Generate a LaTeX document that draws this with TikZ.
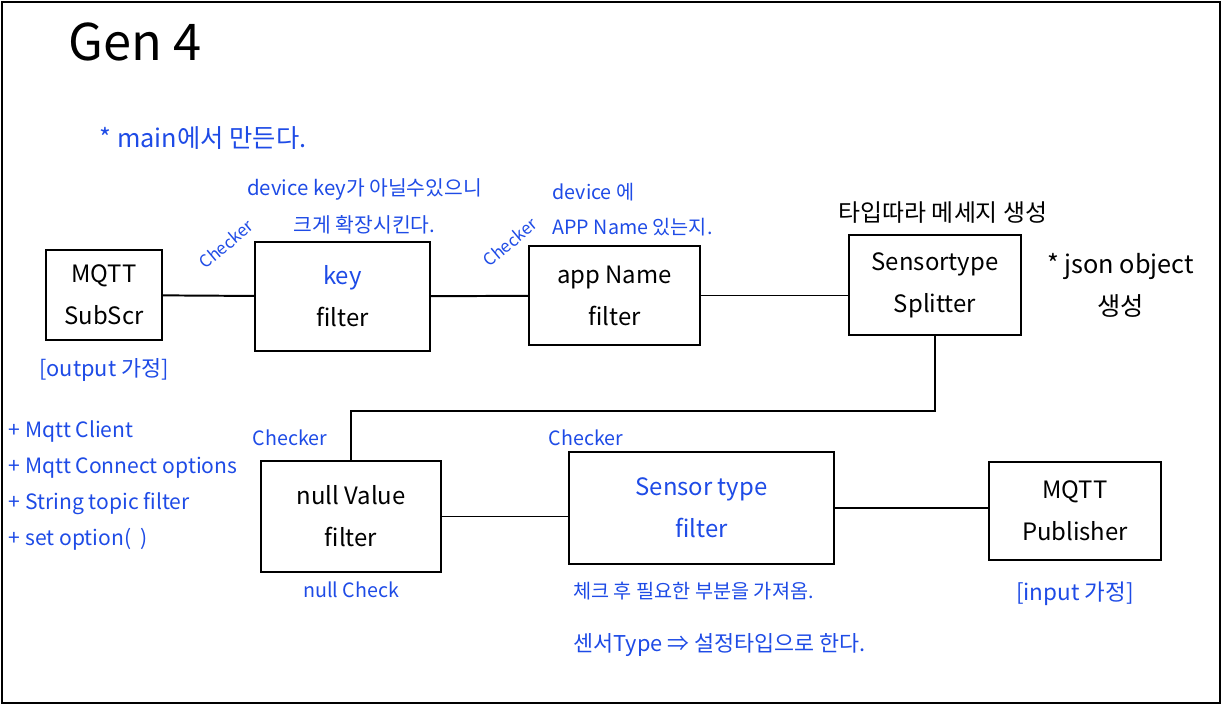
\documentclass[tikz,border=0pt]{standalone}
\usepackage{fontspec}
\newfontfamily\krfont{Noto Sans CJK KR}
\usepackage{xcolor}
\usetikzlibrary{positioning}
\definecolor{inkblue}{RGB}{30,75,230}

\begin{document}
\begin{tikzpicture}[
    font=\krfont\fontsize{14}{25}\selectfont,
    block/.style = {draw, line width=1.6pt, align=center,
                    font=\krfont\fontsize{17}{30}\selectfont},
    note/.style  = {text=inkblue, align=center},
    cnote/.style = {text=inkblue, rotate=40, inner sep=0pt,
                    font=\krfont\fontsize{12}{14}\selectfont},
    wire/.style  = {line width=1.4pt},
]
\useasboundingbox (0,0) rectangle (30.55,-17.625);
\draw[line width=1.2pt] (0.05,-0.05) rectangle (30.5,-17.575);

%% ── Title ─────────────────────────────────────────────────────────────────
\node[font=\krfont\fontsize{36}{40}\selectfont] (title) at (3.375,-1.05) {Gen 4};
\node[note, font=\krfont\fontsize{18}{20}\selectfont] (mainnote) at (5.075,-3.45)
  {* main에서 만든다.};

%% ── Top row ───────────────────────────────────────────────────────────────
\node[block, minimum width=2.9cm, minimum height=2.25cm] (sub) at (2.6,-7.375)
  {MQTT\\SubScr};
\node[block, minimum width=4.375cm, minimum height=2.725cm] (key) at (8.5625,-7.4125)
  {\textcolor{inkblue}{key}\\filter};
\node[block, minimum width=4.275cm, minimum height=2.475cm] (app) at (15.3625,-7.3875)
  {app Name\\filter};
\node[block, minimum width=4.3cm, minimum height=2.5cm] (split) at (23.375,-7.125)
  {Sensortype\\Splitter};

\draw[wire] (sub) -- (key);
\draw[wire] (key) -- (app);
\draw[wire] (app.east) -- (app.east -| split.west);

\node[note, below=0.3cm of sub, font=\krfont\fontsize{15.5}{20}\selectfont] (outnote)
  {[output 가정]};
\node[note, above=0.05cm of key, xshift=0.55cm, font=\krfont\fontsize{14.5}{26}\selectfont]
  (keynote) {device key가 아닐수있으니\\크게 확장시킨다.};
\node[note, above=0.1cm of app, xshift=0.45cm, align=left] (appnote)
  {device 에\\APP Name 있는지.};
\node[above=0.15cm of split, xshift=0.2cm, font=\krfont\fontsize{17}{20}\selectfont]
  (splitnote) {타입따라 메세지 생성};
\node[right=0.5cm of split, align=center, font=\krfont\fontsize{18}{30}\selectfont]
  (jsonnote) {* json object\\생성};
\node[cnote] (chk1) at (5.65,-6.1) {Checker};
\node[cnote] (chk2) at (12.75,-6.05) {Checker};

%% ── Client members ────────────────────────────────────────────────────────
\node[note, align=left, anchor=north west, font=\krfont\fontsize{15}{25.5}\selectfont]
  (members) at (0.1,-10.4)
  {+ Mqtt Client\\+ Mqtt Connect options\\+ String topic filter\\+ set option(\ \ )};

%% ── Bottom row ────────────────────────────────────────────────────────────
\node[block, minimum width=4.5cm, minimum height=2.775cm] (null) at (8.775,-12.9125)
  {null Value\\filter};
\node[block, minimum width=6.625cm, minimum height=2.8cm, text=inkblue] (stype)
  at (17.5375,-12.7) {Sensor type\\filter};
\node[block, minimum width=4.3cm, minimum height=2.45cm] (pub) at (26.875,-12.775)
  {MQTT\\Publisher};

\draw[wire] (split.south) -- ++(0,-1.875) -| (null.north);
\draw[wire] (null.east) -- (null.east -| stype.west);
\draw[wire] (stype.east) -- (stype.east -| pub.west);

\node[note] (chk3) at (7.25,-10.95) {Checker};
\node[note] (chk4) at (14.65,-10.95) {Checker};
\node[note, below=0.1cm of null] (nullnote) {null Check};
\node[note, below=0.3cm of stype, xshift=-0.2cm] (getnote) {체크 후 필요한 부분을 가져옴.};
\node[note, below right=0.6cm and 0cm of getnote.south west, font=\krfont\fontsize{15.5}{20}\selectfont]
  (typenote) {센서Type ⇒ 설정타입으로 한다.};
\node[note, below=0.4cm of pub, font=\krfont\fontsize{16}{20}\selectfont] (innote)
  {[input 가정]};

\end{tikzpicture}
\end{document}
